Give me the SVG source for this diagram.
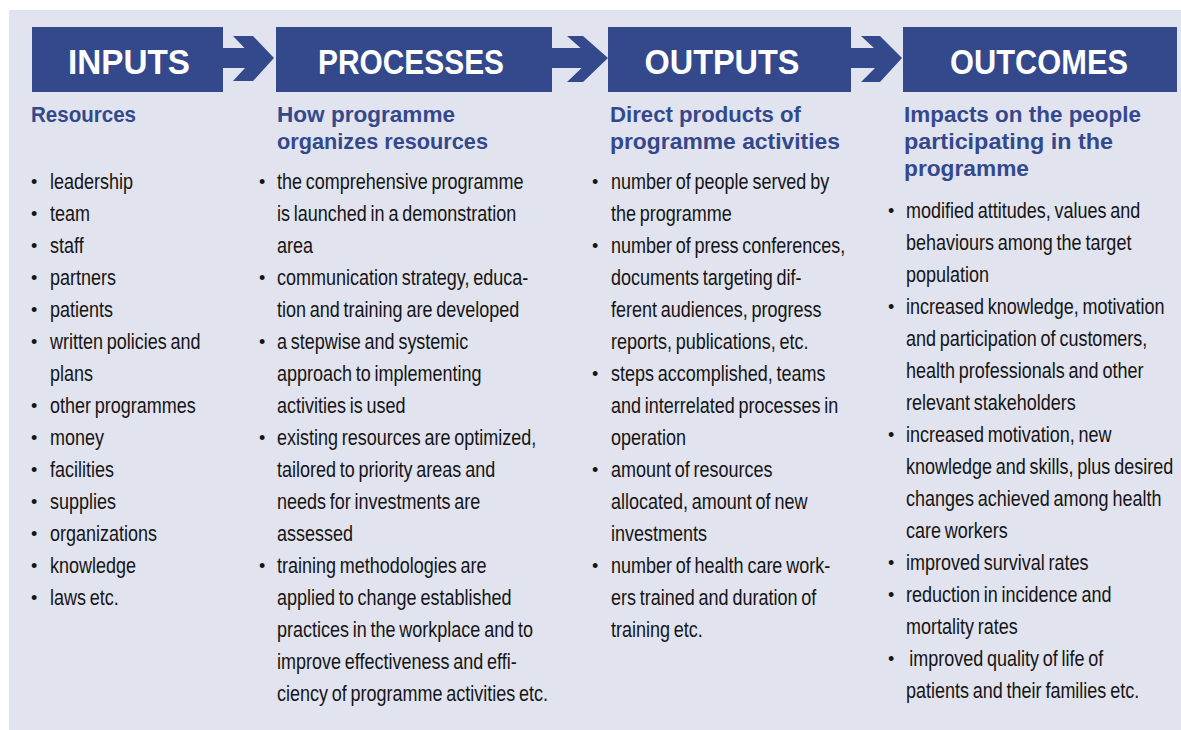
<svg xmlns="http://www.w3.org/2000/svg" width="1181" height="730" viewBox="0 0 1181 730">
<style>
.hdr{font-family:"Liberation Sans",Arial,sans-serif;font-weight:bold;font-size:35px;fill:#ffffff;text-anchor:middle}
.sub{font-family:"Liberation Sans",Arial,sans-serif;font-weight:bold;font-size:21.5px;fill:#34488c}
.body{font-family:"Liberation Sans",Arial,sans-serif;font-size:22.5px;fill:#151515;word-spacing:-1.5px}
.bul{font-family:"Liberation Sans",Arial,sans-serif;font-size:18px;fill:#151515}
.box{fill:#34488c}
.arr{fill:#34488c}
</style>
<rect x="0" y="0" width="1181" height="730" fill="#ffffff"/>
<rect x="9" y="10" width="1172" height="720" fill="#e1e3ef"/>
<g id="connectors">
<polygon class="arr" points="223,48 244.5,48 233,36 253,36 274,58 253,81 233,81 245,68 223,68"/>
<polygon class="arr" points="552,48 580.6,48 567,36 583,36 608,58 583,82 567,82 581.6,68 552,68"/>
<polygon class="arr" points="851,48 874,48 861,36 880,36 902,58 880,82 861,82 875,68 851,68"/>
</g>
<g id="inputs">
<rect class="box" x="32" y="27" width="191" height="65"/>
<text class="hdr" x="129" y="74" textLength="122" lengthAdjust="spacingAndGlyphs">INPUTS</text>
<text class="sub" x="31" y="122" textLength="105" lengthAdjust="spacingAndGlyphs">Resources</text>
<g class="bul">
<text x="31" y="188">•</text><text x="31" y="220">•</text><text x="31" y="252">•</text><text x="31" y="284">•</text><text x="31" y="316">•</text><text x="31" y="348">•</text><text x="31" y="412">•</text><text x="31" y="444">•</text><text x="31" y="476">•</text><text x="31" y="508">•</text><text x="31" y="540">•</text><text x="31" y="572">•</text><text x="31" y="604">•</text>
</g>
<g class="body" transform="translate(50 0) scale(0.8 1)">
<text x="0" y="189">leadership</text>
<text x="0" y="221">team</text>
<text x="0" y="253">staff</text>
<text x="0" y="285">partners</text>
<text x="0" y="317">patients</text>
<text x="0" y="349">written policies and</text>
<text x="0" y="381">plans</text>
<text x="0" y="413">other programmes</text>
<text x="0" y="445">money</text>
<text x="0" y="477">facilities</text>
<text x="0" y="509">supplies</text>
<text x="0" y="541">organizations</text>
<text x="0" y="573">knowledge</text>
<text x="0" y="605">laws etc.</text>
</g>
</g>
<g id="processes">
<rect class="box" x="276" y="27" width="276" height="65"/>
<text class="hdr" x="411" y="74" textLength="186" lengthAdjust="spacingAndGlyphs">PROCESSES</text>
<text class="sub" x="277" y="122" textLength="178" lengthAdjust="spacingAndGlyphs">How programme</text>
<text class="sub" x="277" y="149" textLength="211" lengthAdjust="spacingAndGlyphs">organizes resources</text>
<g class="bul">
<text x="259" y="188">•</text><text x="259" y="284">•</text><text x="259" y="348">•</text><text x="259" y="444">•</text><text x="259" y="572">•</text>
</g>
<g class="body" transform="translate(277 0) scale(0.8 1)">
<text x="0" y="189">the comprehensive programme</text>
<text x="0" y="221">is launched in a demonstration</text>
<text x="0" y="253">area</text>
<text x="0" y="285">communication strategy, educa-</text>
<text x="0" y="317">tion and training are developed</text>
<text x="0" y="349">a stepwise and systemic</text>
<text x="0" y="381">approach to implementing</text>
<text x="0" y="413">activities is used</text>
<text x="0" y="445">existing resources are optimized,</text>
<text x="0" y="477">tailored to priority areas and</text>
<text x="0" y="509">needs for investments are</text>
<text x="0" y="541">assessed</text>
<text x="0" y="573">training methodologies are</text>
<text x="0" y="605">applied to change established</text>
<text x="0" y="637">practices in the workplace and to</text>
<text x="0" y="669">improve effectiveness and effi-</text>
<text x="0" y="701">ciency of programme activities etc.</text>
</g>
</g>
<g id="outputs">
<rect class="box" x="608" y="27" width="243" height="65"/>
<text class="hdr" x="722" y="74" textLength="155" lengthAdjust="spacingAndGlyphs">OUTPUTS</text>
<text class="sub" x="610" y="122" textLength="191" lengthAdjust="spacingAndGlyphs">Direct products of</text>
<text class="sub" x="610" y="149" textLength="230" lengthAdjust="spacingAndGlyphs">programme activities</text>
<g class="bul">
<text x="592" y="188">•</text><text x="592" y="252">•</text><text x="592" y="380">•</text><text x="592" y="476">•</text><text x="592" y="572">•</text>
</g>
<g class="body" transform="translate(611 0) scale(0.8 1)">
<text x="0" y="189">number of people served by</text>
<text x="0" y="221">the programme</text>
<text x="0" y="253">number of press conferences,</text>
<text x="0" y="285">documents targeting dif-</text>
<text x="0" y="317">ferent audiences, progress</text>
<text x="0" y="349">reports, publications, etc.</text>
<text x="0" y="381">steps accomplished, teams</text>
<text x="0" y="413">and interrelated processes in</text>
<text x="0" y="445">operation</text>
<text x="0" y="477">amount of resources</text>
<text x="0" y="509">allocated, amount of new</text>
<text x="0" y="541">investments</text>
<text x="0" y="573">number of health care work-</text>
<text x="0" y="605">ers trained and duration of</text>
<text x="0" y="637">training etc.</text>
</g>
</g>
<g id="outcomes">
<rect class="box" x="903" y="27" width="274" height="65"/>
<text class="hdr" x="1039" y="74" textLength="178" lengthAdjust="spacingAndGlyphs">OUTCOMES</text>
<text class="sub" x="904" y="122" textLength="237" lengthAdjust="spacingAndGlyphs">Impacts on the people</text>
<text class="sub" x="904" y="149" textLength="209" lengthAdjust="spacingAndGlyphs">participating in the</text>
<text class="sub" x="904" y="176" textLength="125" lengthAdjust="spacingAndGlyphs">programme</text>
<g class="bul">
<text x="888" y="217">•</text><text x="888" y="313">•</text><text x="888" y="441">•</text><text x="888" y="569">•</text><text x="888" y="601">•</text><text x="888" y="665">•</text>
</g>
<g class="body" transform="translate(906 0) scale(0.8 1)">
<text x="0" y="218">modified attitudes, values and</text>
<text x="0" y="250">behaviours among the target</text>
<text x="0" y="282">population</text>
<text x="0" y="314">increased knowledge, motivation</text>
<text x="0" y="346">and participation of customers,</text>
<text x="0" y="378">health professionals and other</text>
<text x="0" y="410">relevant stakeholders</text>
<text x="0" y="442">increased motivation, new</text>
<text x="0" y="474">knowledge and skills, plus desired</text>
<text x="0" y="506">changes achieved among health</text>
<text x="0" y="538">care workers</text>
<text x="0" y="570">improved survival rates</text>
<text x="0" y="602">reduction in incidence and</text>
<text x="0" y="634">mortality rates</text>
<text x="4" y="666">improved quality of life of</text>
<text x="0" y="698">patients and their families etc.</text>
</g>
</g>
</svg>
